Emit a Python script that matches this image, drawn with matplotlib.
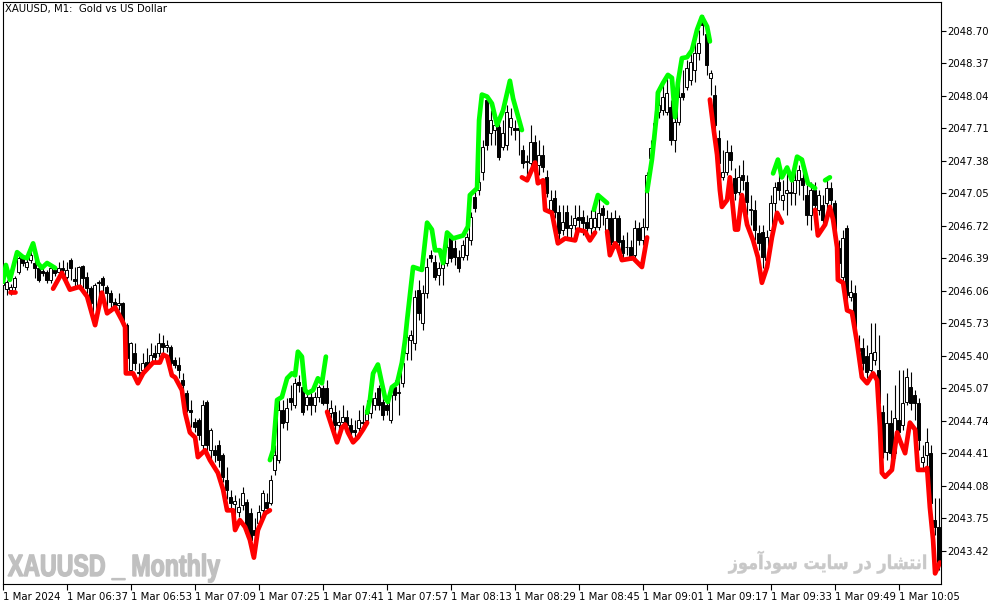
import numpy as np
import matplotlib.pyplot as plt
from matplotlib.textpath import TextPath
from matplotlib.patches import PathPatch
from matplotlib.font_manager import FontProperties
from matplotlib.transforms import Affine2D

# XAUUSD M1 candles, 06:21 .. 10:15 (one bar per minute)
opens = [
    2046.12, 2046.08, 2046.07, 2046.10, 2046.25, 2046.39, 2046.30, 2046.37, 2046.34, 2046.29,
    2046.26, 2046.25, 2046.17, 2046.27, 2046.25, 2046.29, 2046.20, 2046.37, 2046.18, 2046.10,
    2046.31, 2046.20, 2046.09, 2045.79, 2046.14, 2046.19, 2046.10, 2046.04, 2045.94, 2045.91,
    2045.93, 2045.71, 2045.25, 2045.43, 2045.22, 2045.25, 2045.34, 2045.33, 2045.43, 2045.43,
    2045.53, 2045.49, 2045.49, 2045.36, 2045.31, 2045.15, 2045.02, 2044.85, 2044.73, 2044.75,
    2044.49, 2044.93, 2044.44, 2044.44, 2044.49, 2044.39, 2044.14, 2043.97, 2043.89, 2043.81,
    2043.88, 2043.91, 2043.80, 2043.63, 2043.70, 2043.83, 2043.91, 2043.90, 2044.24, 2044.34,
    2044.85, 2044.73, 2044.97, 2044.90, 2045.13, 2045.08, 2044.90, 2044.98, 2044.90, 2044.98,
    2045.07, 2045.07, 2044.82, 2044.83, 2044.70, 2044.73, 2044.78, 2044.70, 2044.65, 2044.67,
    2044.73, 2044.75, 2044.82, 2044.90, 2045.07, 2044.93, 2044.90, 2044.75, 2045.08, 2045.02,
    2045.12, 2045.43, 2045.56, 2045.53, 2046.07, 2045.73, 2046.04, 2046.42, 2046.35, 2046.22,
    2046.29, 2046.34, 2046.59, 2046.49, 2046.40, 2046.40, 2046.42, 2046.57, 2047.01, 2047.08,
    2047.26, 2048.00, 2047.66, 2047.69, 2047.72, 2047.52, 2047.54, 2047.72, 2047.71, 2047.71,
    2047.49, 2047.37, 2047.36, 2047.57, 2047.34, 2047.44, 2047.21, 2046.88, 2047.00, 2046.86,
    2046.68, 2046.86, 2046.70, 2046.73, 2046.81, 2046.81, 2046.76, 2046.70, 2046.71, 2046.71,
    2046.90, 2046.65, 2046.80, 2046.54, 2046.80, 2046.57, 2046.50, 2046.50, 2046.42, 2046.70,
    2046.57, 2046.71, 2047.41, 2047.67, 2047.87, 2047.89, 2047.87, 2047.92, 2047.59, 2047.77,
    2048.07, 2048.13, 2048.20, 2048.30, 2048.47, 2048.79, 2048.67, 2048.22, 2048.05, 2047.61,
    2047.21, 2047.26, 2047.47, 2047.20, 2047.06, 2047.23, 2047.16, 2046.88, 2046.88, 2046.65,
    2046.66, 2046.37, 2046.68, 2046.95, 2047.16, 2046.98, 2047.05, 2047.06, 2047.05, 2047.18,
    2047.20, 2047.03, 2046.83, 2047.08, 2046.88, 2046.93, 2046.95, 2047.10, 2046.95, 2046.49,
    2046.20, 2046.70, 2046.00, 2046.04, 2045.45, 2045.48, 2045.40, 2045.25, 2045.36, 2045.25,
    2044.83, 2044.42, 2044.72, 2044.41, 2044.75, 2044.70, 2044.93, 2045.08, 2045.00, 2044.92,
    2044.32, 2044.39, 2044.41, 2043.73, 2043.66,
]
highs = [
    2046.19, 2046.17, 2046.13, 2046.21, 2046.45, 2046.42, 2046.39, 2046.47, 2046.44, 2046.31,
    2046.29, 2046.27, 2046.32, 2046.30, 2046.35, 2046.37, 2046.35, 2046.39, 2046.30, 2046.31,
    2046.32, 2046.25, 2046.11, 2046.14, 2046.17, 2046.21, 2046.12, 2046.07, 2045.99, 2046.04,
    2045.94, 2045.73, 2045.54, 2045.53, 2045.33, 2045.43, 2045.48, 2045.53, 2045.51, 2045.63,
    2045.61, 2045.56, 2045.51, 2045.39, 2045.39, 2045.22, 2045.05, 2044.95, 2044.77, 2044.77,
    2044.95, 2044.95, 2044.67, 2044.49, 2044.54, 2044.41, 2044.27, 2044.04, 2043.99, 2043.96,
    2044.07, 2043.94, 2043.85, 2043.75, 2043.88, 2044.04, 2044.01, 2044.19, 2044.49, 2044.95,
    2044.95, 2044.97, 2045.10, 2045.17, 2045.20, 2045.10, 2045.05, 2045.03, 2045.03, 2045.10,
    2045.10, 2045.15, 2044.95, 2044.90, 2044.85, 2044.90, 2044.85, 2044.77, 2044.75, 2044.85,
    2044.90, 2044.95, 2045.00, 2045.03, 2045.10, 2044.97, 2044.95, 2045.05, 2045.15, 2045.15,
    2045.38, 2045.63, 2045.66, 2046.07, 2046.17, 2046.12, 2046.39, 2046.47, 2046.42, 2046.35,
    2046.42, 2046.57, 2046.61, 2046.57, 2046.47, 2046.57, 2046.65, 2046.86, 2047.08, 2047.39,
    2047.59, 2048.05, 2047.89, 2047.84, 2047.79, 2047.79, 2047.94, 2047.91, 2047.79, 2047.79,
    2047.54, 2047.44, 2047.74, 2047.64, 2047.59, 2047.54, 2047.28, 2047.08, 2047.08, 2046.93,
    2046.93, 2046.93, 2046.83, 2046.93, 2046.93, 2046.88, 2046.83, 2046.88, 2046.98, 2047.03,
    2046.93, 2046.88, 2046.86, 2046.88, 2046.83, 2046.62, 2046.66, 2046.57, 2046.78, 2046.76,
    2046.80, 2047.26, 2047.59, 2047.89, 2048.10, 2048.15, 2048.25, 2048.00, 2047.84, 2048.25,
    2048.30, 2048.40, 2048.50, 2048.60, 2048.71, 2048.86, 2048.71, 2048.30, 2048.15, 2047.69,
    2047.49, 2047.59, 2047.54, 2047.30, 2047.34, 2047.39, 2047.23, 2047.03, 2046.98, 2046.73,
    2046.73, 2046.68, 2047.03, 2047.16, 2047.34, 2047.18, 2047.28, 2047.18, 2047.28, 2047.34,
    2047.28, 2047.13, 2047.16, 2047.16, 2047.08, 2047.03, 2047.18, 2047.16, 2046.98, 2046.57,
    2046.68, 2046.73, 2046.17, 2046.12, 2045.61, 2045.58, 2045.51, 2045.73, 2045.73, 2045.61,
    2044.90, 2045.02, 2044.85, 2045.10, 2045.25, 2045.25, 2045.27, 2045.23, 2045.05, 2044.97,
    2044.49, 2044.67, 2044.49, 2043.95, 2043.95,
]
lows = [
    2046.05, 2046.02, 2046.02, 2046.07, 2046.23, 2046.31, 2046.27, 2046.34, 2046.19, 2046.15,
    2046.21, 2046.14, 2046.14, 2046.21, 2046.20, 2046.17, 2046.18, 2046.17, 2046.10, 2046.08,
    2046.09, 2046.00, 2045.91, 2045.76, 2045.89, 2046.04, 2045.89, 2045.84, 2045.88, 2045.86,
    2045.72, 2045.36, 2045.22, 2045.25, 2045.18, 2045.22, 2045.25, 2045.29, 2045.33, 2045.39,
    2045.43, 2045.44, 2045.29, 2045.27, 2045.17, 2044.98, 2044.83, 2044.68, 2044.63, 2044.54,
    2044.44, 2044.39, 2044.32, 2044.32, 2044.27, 2044.12, 2043.94, 2043.83, 2043.78, 2043.76,
    2043.83, 2043.56, 2043.38, 2043.48, 2043.63, 2043.78, 2043.81, 2043.88, 2044.19, 2044.31,
    2044.67, 2044.65, 2044.85, 2044.87, 2045.03, 2044.80, 2044.85, 2044.80, 2044.83, 2044.93,
    2044.90, 2044.85, 2044.77, 2044.63, 2044.65, 2044.70, 2044.65, 2044.58, 2044.56, 2044.63,
    2044.67, 2044.70, 2044.77, 2044.85, 2044.85, 2044.75, 2044.80, 2044.72, 2044.95, 2044.80,
    2045.08, 2045.36, 2045.36, 2045.46, 2045.76, 2045.66, 2045.99, 2046.35, 2046.17, 2046.12,
    2046.12, 2046.31, 2046.35, 2046.32, 2046.25, 2046.37, 2046.37, 2046.52, 2046.86, 2047.03,
    2047.18, 2047.49, 2047.54, 2047.54, 2047.39, 2047.49, 2047.49, 2047.64, 2047.59, 2047.44,
    2047.30, 2047.23, 2047.33, 2047.34, 2047.23, 2047.26, 2047.01, 2046.83, 2046.80, 2046.57,
    2046.62, 2046.59, 2046.57, 2046.68, 2046.70, 2046.62, 2046.66, 2046.62, 2046.66, 2046.68,
    2046.73, 2046.59, 2046.52, 2046.49, 2046.47, 2046.39, 2046.42, 2046.37, 2046.39, 2046.52,
    2046.52, 2046.68, 2047.34, 2047.59, 2047.81, 2047.84, 2047.84, 2047.54, 2047.47, 2047.74,
    2048.00, 2048.10, 2048.15, 2048.18, 2048.40, 2048.65, 2048.25, 2048.05, 2047.69, 2047.28,
    2047.18, 2047.23, 2047.28, 2046.98, 2047.03, 2047.08, 2046.83, 2046.73, 2046.57, 2046.47,
    2046.29, 2046.32, 2046.62, 2046.83, 2046.98, 2046.88, 2046.83, 2046.93, 2046.93, 2047.03,
    2046.98, 2046.73, 2046.68, 2046.73, 2046.83, 2046.73, 2046.88, 2046.93, 2046.57, 2046.27,
    2046.15, 2045.97, 2045.95, 2045.61, 2045.41, 2045.25, 2045.17, 2045.20, 2045.31, 2044.90,
    2044.36, 2044.34, 2044.32, 2044.36, 2044.54, 2044.65, 2044.90, 2044.85, 2044.75, 2044.44,
    2044.24, 2044.24, 2043.88, 2043.58, 2043.22,
]
closes = [
    2046.15, 2046.15, 2046.10, 2046.19, 2046.39, 2046.34, 2046.35, 2046.42, 2046.29, 2046.17,
    2046.24, 2046.17, 2046.29, 2046.24, 2046.29, 2046.27, 2046.27, 2046.29, 2046.16, 2046.30,
    2046.19, 2046.09, 2045.93, 2046.12, 2046.15, 2046.12, 2046.04, 2045.94, 2045.91, 2045.93,
    2045.74, 2045.38, 2045.53, 2045.33, 2045.23, 2045.33, 2045.28, 2045.41, 2045.39, 2045.53,
    2045.49, 2045.51, 2045.33, 2045.31, 2045.25, 2045.10, 2044.85, 2044.83, 2044.68, 2044.59,
    2044.90, 2044.49, 2044.65, 2044.39, 2044.34, 2044.17, 2044.04, 2043.90, 2043.92, 2043.86,
    2044.01, 2043.60, 2043.53, 2043.58, 2043.81, 2044.01, 2043.85, 2044.14, 2044.39, 2044.85,
    2044.72, 2044.87, 2044.93, 2045.12, 2045.10, 2044.83, 2044.98, 2044.90, 2044.98, 2045.08,
    2044.92, 2044.92, 2044.87, 2044.70, 2044.73, 2044.78, 2044.70, 2044.62, 2044.62, 2044.75,
    2044.72, 2044.85, 2044.97, 2044.97, 2044.90, 2044.80, 2044.85, 2045.00, 2045.00, 2045.03,
    2045.33, 2045.59, 2045.61, 2046.00, 2045.83, 2046.04, 2046.30, 2046.39, 2046.20, 2046.29,
    2046.34, 2046.50, 2046.39, 2046.40, 2046.29, 2046.52, 2046.60, 2046.81, 2046.90, 2047.16,
    2047.52, 2047.54, 2047.79, 2047.74, 2047.42, 2047.66, 2047.87, 2047.81, 2047.69, 2047.69,
    2047.36, 2047.37, 2047.57, 2047.39, 2047.44, 2047.32, 2047.05, 2046.98, 2046.86, 2046.65,
    2046.76, 2046.70, 2046.73, 2046.80, 2046.78, 2046.75, 2046.70, 2046.80, 2046.80, 2046.85,
    2046.83, 2046.80, 2046.55, 2046.80, 2046.55, 2046.44, 2046.50, 2046.40, 2046.70, 2046.57,
    2046.71, 2047.23, 2047.51, 2047.76, 2047.94, 2048.03, 2048.07, 2047.59, 2047.77, 2048.03,
    2048.03, 2048.32, 2048.38, 2048.47, 2048.57, 2048.76, 2048.35, 2048.27, 2047.74, 2047.36,
    2047.26, 2047.47, 2047.39, 2047.05, 2047.21, 2047.18, 2046.96, 2046.88, 2046.68, 2046.54,
    2046.40, 2046.60, 2046.95, 2047.11, 2047.08, 2047.03, 2047.08, 2047.05, 2047.18, 2047.28,
    2047.13, 2046.83, 2047.08, 2046.93, 2047.03, 2046.78, 2047.10, 2046.98, 2046.62, 2046.34,
    2046.59, 2046.02, 2046.05, 2045.69, 2045.48, 2045.33, 2045.23, 2045.43, 2045.44, 2044.92,
    2044.42, 2044.72, 2044.41, 2044.77, 2044.62, 2044.92, 2045.18, 2044.92, 2044.92, 2044.54,
    2044.37, 2044.52, 2043.90, 2043.66, 2043.31,
]

# trend line indicator: up parts (green) and down parts (red), bar index -> price
green_bars = [
    [0.1, 0.8, 1.8, 3.6, 5.1, 6.1, 7.6, 8.8, 9.8, 11.1, 13.1],
    [66.8, 67.6, 68.6, 69.8, 71.1, 72.3, 73.1, 73.8, 74.8, 75.6, 76.3, 77.6, 78.8, 79.8, 80.8],
    [91.1, 91.8, 92.6, 93.8, 94.8, 95.6, 96.3, 97.3, 98.6, 99.8, 100.6, 101.1, 102.6, 104.8,
     106.1, 107.3, 108.1, 109.3, 110.1, 111.1, 112.6, 115.1, 116.3, 116.8, 118.6, 119.1,
     119.8, 121.1, 122.3, 123.6, 125.1, 126.8, 127.6, 129.8],
    [147.8, 148.8, 151.1],
    [161.1, 162.3, 163.6, 163.8, 165.1, 166.3, 167.3, 168.1, 168.8, 169.8, 171.1, 172.3,
     173.6, 174.8, 176.1, 176.8],
    [192.6, 193.8, 194.8, 196.1, 197.3, 198.6, 199.8, 201.3, 203.1],
    [205.6, 206.8],
]
green_vals = [
    [2046.15, 2046.32, 2046.17, 2046.45, 2046.40, 2046.39, 2046.54, 2046.34, 2046.29, 2046.34, 2046.29],
    [2044.34, 2044.44, 2044.95, 2044.98, 2045.17, 2045.22, 2045.20, 2045.44, 2045.39, 2045.05,
     2045.02, 2045.05, 2045.17, 2045.12, 2045.39],
    [2044.82, 2044.95, 2045.22, 2045.31, 2045.12, 2044.97, 2044.93, 2045.08, 2045.12, 2045.33,
     2045.56, 2045.76, 2046.30, 2046.27, 2046.75, 2046.68, 2046.47, 2046.47, 2046.34, 2046.65,
     2046.59, 2046.62, 2046.71, 2047.03, 2047.10, 2047.79, 2048.05, 2048.03, 2047.96, 2047.74,
     2047.89, 2048.19, 2048.01, 2047.69],
    [2046.88, 2047.03, 2046.95],
    [2047.07, 2047.39, 2047.89, 2048.07, 2048.17, 2048.25, 2048.22, 2047.82, 2048.17, 2048.42,
     2048.43, 2048.50, 2048.71, 2048.84, 2048.74, 2048.59],
    [2047.25, 2047.39, 2047.21, 2047.31, 2047.18, 2047.42, 2047.39, 2047.15, 2047.10],
    [2047.18, 2047.21],
]
red_bars = [
    [1.8, 3.1],
    [12.6, 14.8, 16.8, 19.3, 21.1, 23.1, 24.8, 26.1, 28.1, 29.8, 30.6, 30.8, 32.6, 33.8, 35.1,
     37.6, 39.3, 40.1, 41.1, 42.3, 43.1, 44.8, 45.6, 46.8, 48.1, 48.8, 50.6, 51.8, 53.8, 55.1,
     56.1, 57.6, 58.1, 59.3, 60.6, 61.8, 62.8, 63.8, 65.6, 66.8],
    [81.1, 82.3, 83.6, 84.8, 85.6, 86.3, 87.6, 88.8, 90.1, 91.1],
    [129.8, 131.1, 133.1, 133.8, 135.1, 135.6, 137.3, 138.8, 140.6, 143.1, 143.8, 145.6, 146.8, 148.1],
    [151.1, 151.8, 153.1, 153.8, 154.8, 157.6, 159.8, 161.1],
    [176.8, 177.6, 178.6, 179.3, 179.8, 181.1, 181.8, 183.1, 183.8, 184.8, 186.1, 187.6, 188.8,
     189.8, 191.1, 192.3, 193.6, 194.8],
    [203.1, 203.8, 205.6, 206.8, 207.6, 208.6, 208.8, 210.1, 211.1, 212.3, 213.6, 214.8, 216.1,
     217.6, 218.6, 219.3, 219.8, 220.6, 222.3, 223.6, 224.3, 225.6, 226.8, 228.1, 228.8, 230.6,
     231.1, 231.8, 232.6, 233.1, 234.3],
]
red_vals = [
    [2046.05, 2046.05],
    [2046.08, 2046.24, 2046.07, 2046.10, 2046.00, 2045.71, 2046.04, 2045.83, 2045.89, 2045.76,
     2045.69, 2045.22, 2045.22, 2045.12, 2045.22, 2045.33, 2045.33, 2045.41, 2045.39, 2045.20,
     2045.18, 2045.05, 2044.82, 2044.62, 2044.57, 2044.37, 2044.44, 2044.34, 2044.21, 2044.04,
     2043.83, 2043.83, 2043.63, 2043.73, 2043.66, 2043.53, 2043.35, 2043.63, 2043.80, 2043.83],
    [2044.83, 2044.68, 2044.52, 2044.67, 2044.70, 2044.62, 2044.52, 2044.57, 2044.65, 2044.72],
    [2047.21, 2047.18, 2047.36, 2047.15, 2047.18, 2046.88, 2046.85, 2046.54, 2046.59, 2046.57,
     2046.68, 2046.66, 2046.57, 2046.65],
    [2046.66, 2046.42, 2046.54, 2046.50, 2046.37, 2046.39, 2046.30, 2046.60],
    [2048.00, 2047.74, 2047.44, 2047.08, 2046.91, 2046.98, 2047.21, 2046.68, 2046.68, 2047.03,
     2046.73, 2046.57, 2046.40, 2046.14, 2046.30, 2046.60, 2046.85, 2046.75],
    [2046.88, 2046.62, 2046.73, 2046.91, 2046.78, 2046.50, 2046.17, 2046.14, 2045.86, 2045.84,
     2045.53, 2045.18, 2045.12, 2045.22, 2045.15, 2044.68, 2044.21, 2044.17, 2044.24, 2044.62,
     2044.54, 2044.41, 2044.72, 2044.65, 2044.24, 2044.24, 2044.26, 2043.86, 2043.53, 2043.19,
     2043.30],
]

price_ticks = [2043.42, 2043.75, 2044.08, 2044.41, 2044.74, 2045.07, 2045.40, 2045.73, 2046.06,
               2046.39, 2046.72, 2047.05, 2047.38, 2047.71, 2048.04, 2048.37, 2048.70]
time_labels = ["1 Mar 2024", "1 Mar 06:37", "1 Mar 06:53", "1 Mar 07:09", "1 Mar 07:25",
               "1 Mar 07:41", "1 Mar 07:57", "1 Mar 08:13", "1 Mar 08:29", "1 Mar 08:45",
               "1 Mar 09:01", "1 Mar 09:17", "1 Mar 09:33", "1 Mar 09:49", "1 Mar 10:05"]

# "انتشار در سایت سودآموز" written with joined letter forms, right-to-left
site_text = ("\ufeaf\ufeee\ufee3\ufe81\ufea9\ufeee\ufeb3 "
             "\ufe96\ufef3\ufe8e\ufeb3 "
             "\ufead\ufea9 "
             "\ufead\ufe8e\ufeb8\ufe98\ufee7\ufe8d")

W, H = 994, 605


def squeezed_text(fig, s, left, right, baseline, size, prop, color, stroke):
    # text drawn as a path, squeezed sideways to fit between left and right (pixels)
    path = TextPath((0, 0), s, size=size, prop=prop)
    bb = path.get_extents()
    sx = (right - left) / bb.width
    tr = Affine2D().translate(-bb.x0, 0).scale(sx, 1).translate(left, H - baseline)
    fig.add_artist(PathPatch(path, transform=tr, facecolor=color, edgecolor=color,
                             linewidth=stroke))


o = np.array(opens)
h = np.array(highs)
l = np.array(lows)
c = np.array(closes)
x = np.arange(len(c))
bull = c >= o

fig = plt.figure(figsize=(W / 100, H / 100), dpi=100)
ax = fig.add_axes([2.5 / W, 21 / H, 938 / W, 582 / H])

ax.vlines(x, l, h, color="black", linewidth=0.8, zorder=2)
ax.bar(x, np.maximum(np.abs(c - o), 0.008), bottom=np.minimum(o, c), width=0.75,
       color=np.where(bull, "white", "black"), edgecolor="black", linewidth=0.7, zorder=3)

for bx, vals in zip(green_bars, green_vals):
    ax.plot(bx, vals, color="#00ff00", linewidth=3.4, solid_capstyle="round",
            solid_joinstyle="round", zorder=4)
for bx, vals in zip(red_bars, red_vals):
    ax.plot(bx, vals, color="#ff0000", linewidth=3.4, solid_capstyle="round",
            solid_joinstyle="round", zorder=4)

ax.set_xlim(-0.05, 234.45)
ax.set_ylim(2043.082, 2048.99)

ax.yaxis.tick_right()
ax.set_yticks(price_ticks)
ax.set_yticklabels([f"{v:.2f}" for v in price_ticks])
ax.set_xticks(np.arange(0, 16 * len(time_labels), 16))
ax.set_xticklabels(time_labels, ha="left")
ax.tick_params(axis="y", direction="out", length=3.5, width=0.8, pad=1, labelsize=7.3)
ax.tick_params(axis="x", direction="out", length=4, width=0.8, pad=1.5, labelsize=7.3)
for s in ax.spines.values():
    s.set_color("black")
    s.set_linewidth(0.8)

fig.text(5 / W, 1 - 4 / H, "XAUUSD, M1:  Gold vs US Dollar", fontsize=7.3,
         ha="left", va="top")

squeezed_text(fig, "XAUUSD _ Monthly", 8, 220, 576, 30.7,
              FontProperties(family="Liberation Sans", weight="bold"), "#c0c0c0", 1.0)
squeezed_text(fig, site_text, 728, 926, 569, 19,
              FontProperties(family="DejaVu Sans", weight="bold"), "#c8c8c8", 0.3)

fig.savefig("out.png", dpi=100)
